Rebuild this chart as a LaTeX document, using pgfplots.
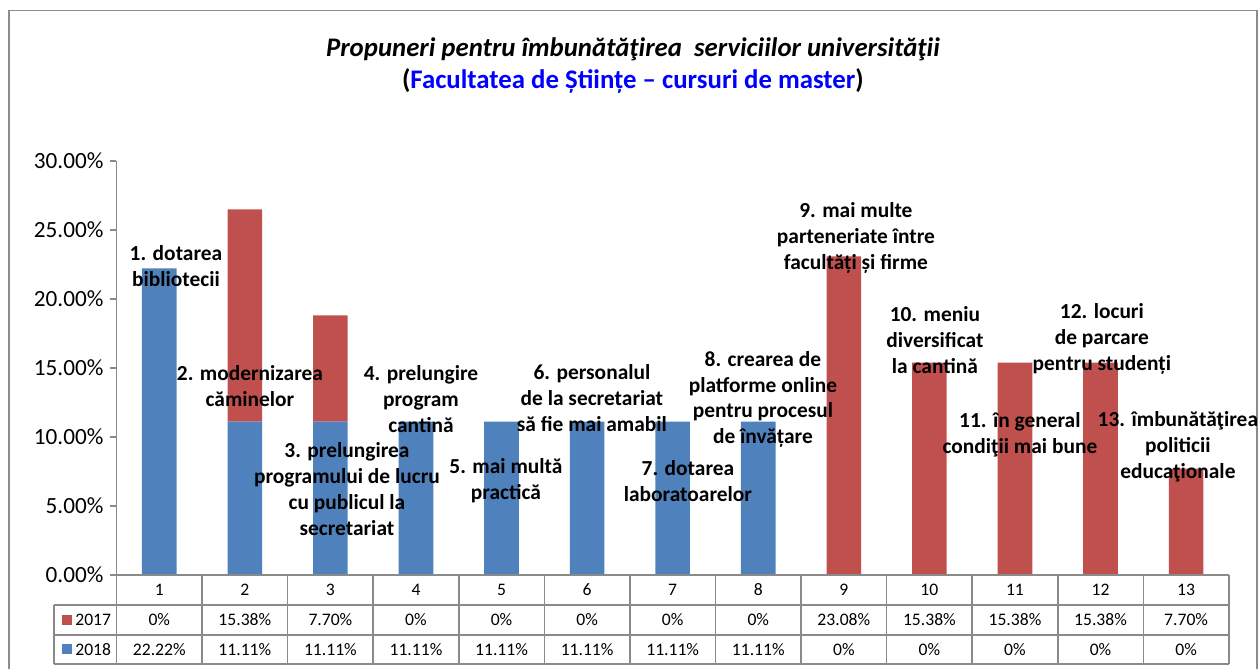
\documentclass[border=0pt]{standalone}
\usepackage{fontspec}
\setmainfont{Carlito}
\usepackage{pgfplots}
\pgfplotsset{compat=1.18}
\definecolor{c18}{HTML}{4F81BD}
\definecolor{c17}{HTML}{C0504D}
\definecolor{framegray}{HTML}{8C8C8C}
\definecolor{linegray}{HTML}{8A8A8A}
\definecolor{tblue}{HTML}{0000FF}
\newcommand{\annot}{\fontsize{10.7}{13}\selectfont\bfseries}
\newcommand{\tbl}{\fontsize{8.8}{10}\selectfont}

\begin{document}
\begin{tikzpicture}
% pixel grid of the reference: (116.5,575) is the axis origin
\begin{scope}[shift={(-58.25pt,287.5pt)}, x=0.5pt, y=-0.5pt]
  \useasboundingbox (0,0) rectangle (1258,669);
  \draw[framegray, line width=0.8pt] (9,669) -- (9,10.7) -- (1257,10.7) -- (1257,669);
  \node[font=\fontsize{13.4}{15}\selectfont\bfseries\itshape] at (633,49)
    {Propuneri pentru îmbunătăţirea\ \ serviciilor universităţii};
  \node[font=\fontsize{13.4}{15}\selectfont\bfseries] at (633,81)
    {(\textcolor{tblue}{Facultatea de Științe – cursuri de master})};
\end{scope}

\begin{axis}[
  at={(0,0)}, anchor=south west,
  scale only axis, width=556.25pt, height=207pt,
  ybar stacked, bar width=17.3pt,
  xmin=0.5, xmax=13.5, ymin=0, ymax=30,
  xtick=\empty,
  ytick={0,5,...,30},
  yticklabels={0.00\%,5.00\%,10.00\%,15.00\%,20.00\%,25.00\%,30.00\%},
  axis x line*=bottom, axis y line*=left,
  axis line style={linegray, line width=0.8pt},
  y tick style={linegray, line width=0.8pt},
  tick align=outside, major tick length=3pt,
  y tick label style={font=\fontsize{11.6}{13}\selectfont},
  clip=false,
]
\addplot[fill=c18, draw=none] coordinates {
  (1,22.22) (2,11.11) (3,11.11) (4,11.11) (5,11.11) (6,11.11) (7,11.11)
  (8,11.11) (9,0) (10,0) (11,0) (12,0) (13,0)};
\addplot[fill=c17, draw=none] coordinates {
  (1,0) (2,15.38) (3,7.70) (4,0) (5,0) (6,0) (7,0)
  (8,0) (9,23.08) (10,15.38) (11,15.38) (12,15.38) (13,7.70)};
\end{axis}

\begin{scope}[shift={(-58.25pt,287.5pt)}, x=0.5pt, y=-0.5pt]
  % data table under the axis
  \draw[linegray, line width=0.8pt] (116.5,575) -- (1229,575);
  \draw[linegray, line width=0.8pt] (54,605) -- (1229,605);
  \draw[linegray, line width=0.8pt] (54,635) -- (1229,635);
  \draw[linegray, line width=0.8pt] (54,664) -- (1229,664);
  \draw[linegray, line width=0.8pt] (54,605) -- (54,664);
  \foreach \k in {0,...,13}
    \draw[linegray, line width=0.8pt] ({116.5+85.58*\k},575) -- ({116.5+85.58*\k},664);
  \foreach \k in {1,...,13}
    \node[font=\tbl] at ({116.5+85.58*(\k-0.5)},590) {\k};
  \foreach \v [count=\k] in {0\%,15.38\%,7.70\%,0\%,0\%,0\%,0\%,0\%,23.08\%,15.38\%,15.38\%,15.38\%,7.70\%}
    \node[font=\tbl] at ({116.5+85.58*(\k-0.5)},620) {\v};
  \foreach \v [count=\k] in {22.22\%,11.11\%,11.11\%,11.11\%,11.11\%,11.11\%,11.11\%,11.11\%,0\%,0\%,0\%,0\%,0\%}
    \node[font=\tbl] at ({116.5+85.58*(\k-0.5)},649.5) {\v};
  \fill[c17] (62,615) rectangle (72,625);
  \node[font=\tbl, anchor=west, inner sep=0pt] at (75,620) {2017};
  \fill[c18] (62,644.5) rectangle (72,654.5);
  \node[font=\tbl, anchor=west, inner sep=0pt] at (75,649.5) {2018};

  % bar captions
  \begin{scope}[every node/.style={font=\annot, align=center, inner sep=0pt}]
  \node at (176,266.5) {1. dotarea\\bibliotecii};
  \node at (250,386.5) {2. modernizarea\\căminelor};
  \node at (347,489) {3. prelungirea\\programului de lucru\\cu publicul la\\secretariat};
  \node at (421,399) {4. prelungire\\program\\cantină};
  \node at (506,480.5) {5. mai multă\\practică};
  \node at (592,398.5) {6. personalul\\de la secretariat\\să fie mai amabil};
  \node at (688,481) {7. dotarea\\laboratoarelor};
  \node at (763,399.5) {8. crearea de\\platforme online\\pentru procesul\\de învățare};
  \node at (856,238) {9. mai multe\\parteneriate între\\facultăți și firme};
  \node at (935,340) {10. meniu\\diversificat\\la cantină};
  \node at (1020,435) {11. în general\\condiţii mai bune};
  \node at (1102,338.5) {12. locuri\\de parcare\\pentru studenți};
  \node at (1178,446.5) {13. îmbunătăţirea\\politicii\\educaţionale};
  \end{scope}
\end{scope}
\end{tikzpicture}
\end{document}
